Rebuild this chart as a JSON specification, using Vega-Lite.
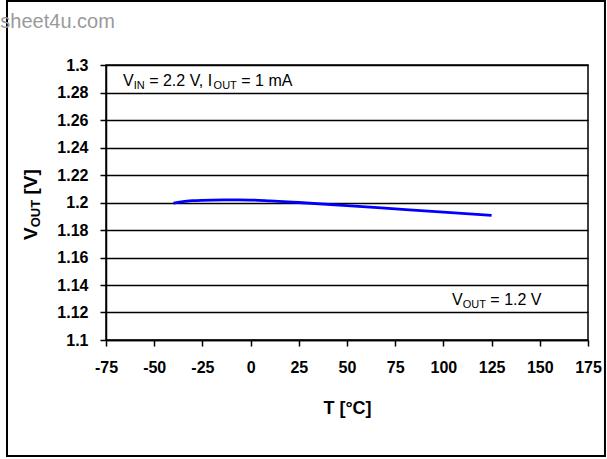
{
  "$schema": "https://vega.github.io/schema/vega-lite/v6.json",
  "width": 482,
  "height": 275,
  "autosize": {"type": "none"},
  "padding": {"left": 106, "top": 65, "right": 19, "bottom": 119},
  "background": "white",
  "config": {
    "font": "Liberation Sans",
    "view": {"stroke": "black", "strokeWidth": 1.5}
  },
  "datasets": {
    "curve": [
      {"T": -40, "V": 1.1995},
      {"T": -30, "V": 1.2013},
      {"T": -20, "V": 1.2018},
      {"T": -10, "V": 1.2019},
      {"T": 0, "V": 1.2018},
      {"T": 10, "V": 1.2012},
      {"T": 25, "V": 1.2},
      {"T": 50, "V": 1.1978},
      {"T": 75, "V": 1.1954},
      {"T": 100, "V": 1.193},
      {"T": 125, "V": 1.1907}
    ],
    "note_main": [
      {"T": -66.18, "V": 1.2847, "label": "V"},
      {"T": -52.62, "V": 1.2847, "label": "= 2.2 V, I"},
      {"T": -4.85, "V": 1.2847, "label": "= 1 mA"},
      {"T": 104.46, "V": 1.1255, "label": "V"},
      {"T": 124.35, "V": 1.1255, "label": "= 1.2 V"}
    ],
    "note_sub": [
      {"T": -60.63, "V": 1.2847, "label": "IN"},
      {"T": -19.19, "V": 1.2847, "label": "OUT"},
      {"T": 110.01, "V": 1.1255, "label": "OUT"}
    ],
    "ytitle_main": [
      {"T": -110.79, "V": 1.17273, "label": "V"},
      {"T": -110.79, "V": 1.20575, "label": "[V]"}
    ],
    "ytitle_sub": [
      {"T": -110.79, "V": 1.18196, "label": "OUT"}
    ],
    "frame": [
      {"T": -126.35, "T2": 183.8, "V": 1.3465, "V2": 1.0156}
    ],
    "watermark": [
      {"T": -129.8, "V": 1.3269, "label": "sheet4u.com"}
    ]
  },
  "encoding": {
    "x": {
      "field": "T",
      "type": "quantitative",
      "scale": {"domain": [-75, 175], "nice": false, "zero": false},
      "axis": {
        "values": [-75, -50, -25, 0, 25, 50, 75, 100, 125, 150, 175],
        "labelExpr": "'' + datum.value",
        "grid": false,
        "domainColor": "black",
        "domainWidth": 1.5,
        "tickColor": "black",
        "tickWidth": 1.5,
        "tickSize": 6,
        "labelFontSize": 16,
        "labelFontWeight": "bold",
        "labelColor": "black",
        "labelPadding": 13,
        "labelFlush": false,
        "title": "T [°C]",
        "titleFontSize": 18,
        "titleFontWeight": "bold",
        "titleColor": "black",
        "titlePadding": 24
      }
    },
    "y": {
      "field": "V",
      "type": "quantitative",
      "scale": {"domain": [1.1, 1.3], "nice": false, "zero": false},
      "axis": {
        "values": [1.1, 1.12, 1.14, 1.16, 1.18, 1.2, 1.22, 1.24, 1.26, 1.28, 1.3],
        "format": "~g",
        "grid": true,
        "gridColor": "black",
        "gridWidth": 1.5,
        "domainColor": "black",
        "domainWidth": 1.5,
        "tickColor": "black",
        "tickWidth": 1.5,
        "tickSize": 6,
        "labelFontSize": 16,
        "labelFontWeight": "bold",
        "labelColor": "black",
        "labelPadding": 12,
        "labelFlush": false,
        "title": null
      }
    }
  },
  "layer": [
    {
      "data": {"name": "curve"},
      "mark": {"type": "line", "color": "#0000ff", "strokeWidth": 2.8, "interpolate": "monotone"}
    },
    {
      "data": {"name": "frame"},
      "mark": {"type": "rect", "fill": "white", "fillOpacity": 0, "stroke": "black", "strokeWidth": 2},
      "encoding": {
        "x2": {"field": "T2"},
        "y2": {"field": "V2"}
      }
    },
    {
      "data": {"name": "note_main"},
      "mark": {"type": "text", "align": "left", "baseline": "alphabetic", "fontSize": 16, "color": "black"},
      "encoding": {"text": {"field": "label"}}
    },
    {
      "data": {"name": "note_sub"},
      "mark": {"type": "text", "align": "left", "baseline": "alphabetic", "fontSize": 11, "dy": 3, "color": "black"},
      "encoding": {"text": {"field": "label"}}
    },
    {
      "data": {"name": "ytitle_main"},
      "mark": {"type": "text", "align": "left", "baseline": "alphabetic", "angle": 270, "fontSize": 19, "fontWeight": "bold", "color": "black"},
      "encoding": {"text": {"field": "label"}}
    },
    {
      "data": {"name": "ytitle_sub"},
      "mark": {"type": "text", "align": "left", "baseline": "alphabetic", "angle": 270, "fontSize": 13, "fontWeight": "bold", "dy": 3, "color": "black"},
      "encoding": {"text": {"field": "label"}}
    },
    {
      "data": {"name": "watermark"},
      "mark": {"type": "text", "align": "left", "baseline": "alphabetic", "fontSize": 20, "color": "#9a9a9a"},
      "encoding": {"text": {"field": "label"}}
    }
  ]
}
